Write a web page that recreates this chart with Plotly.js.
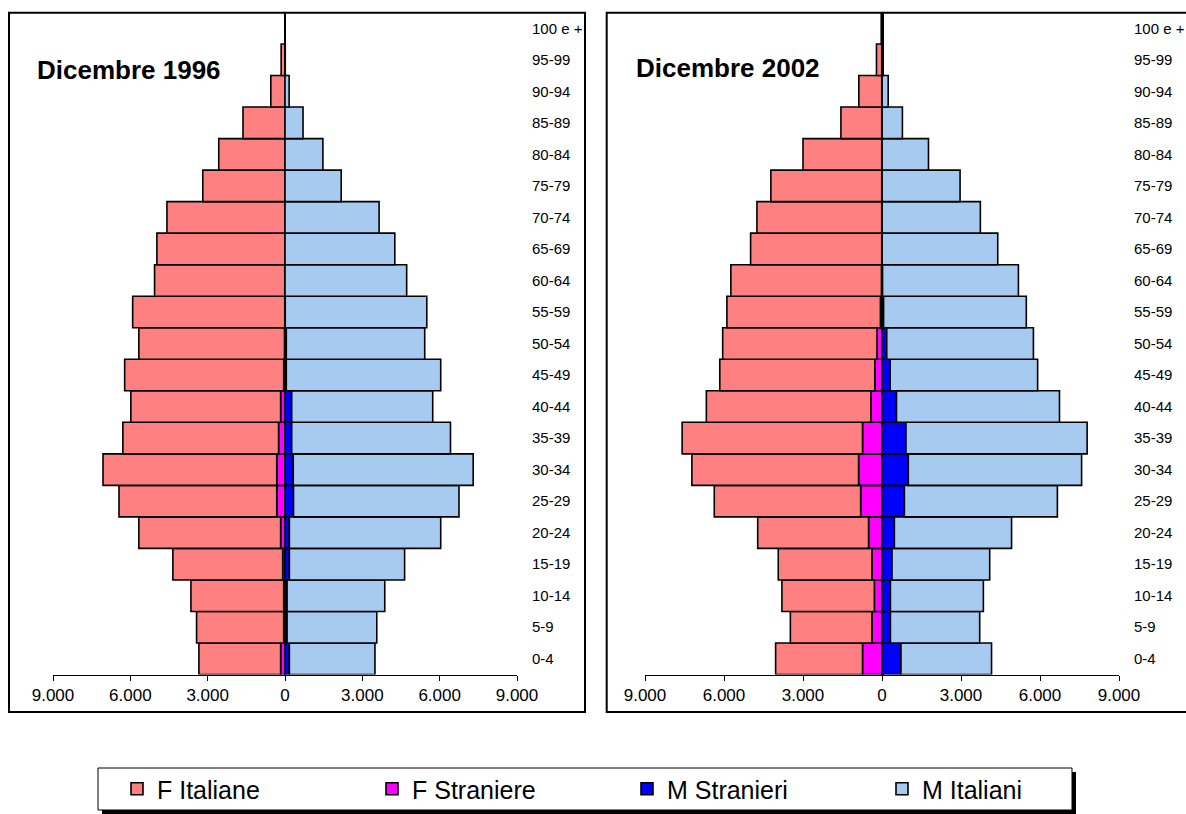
<!DOCTYPE html>
<html>
<head>
<meta charset="utf-8">
<script src="https://cdn.plot.ly/plotly-3.0.1.min.js"></script>
<style>html,body{margin:0;padding:0;background:#fff;}#chart{width:1186px;height:814px;}</style>
</head>
<body>
<div id="chart"></div>
<script>
// Age classes, bottom to top
var ageClasses = ["0-4","5-9","10-14","15-19","20-24","25-29","30-34","35-39","40-44","45-49","50-54","55-59","60-64","65-69","70-74","75-79","80-84","85-89","90-94","95-99","100 e +"];

// Dicembre 1996
var fItaliane1996  = [3170,3380,3600,4260,5500,6120,6740,6040,5810,6170,5650,5900,5050,4970,4580,3190,2570,1630,550,150,0];
var fStraniere1996 = [170,50,50,90,170,320,320,250,170,50,20,10,10,0,0,0,0,0,0,0,0];
var mStranieri1996 = [170,80,80,170,170,330,320,260,260,50,50,10,0,0,0,0,0,0,0,0,0];
var mItaliani1996  = [3320,3480,3790,4470,5870,6420,6980,6160,5470,5990,5370,5490,4720,4260,3650,2180,1470,700,160,10,0];

// Dicembre 2002
var fItaliane2002  = [3300,3100,3510,3560,4210,5560,6330,6850,6250,5890,5860,5830,5720,4980,4740,4210,2990,1550,870,200,30];
var fStraniere2002 = [740,380,290,380,510,810,890,740,420,270,190,60,20,10,10,10,10,10,10,10,0];
var mStranieri2002 = [720,320,320,380,470,850,1000,910,550,310,180,60,20,5,5,5,5,5,5,5,0];
var mItaliani2002  = [3440,3390,3530,3710,4450,5810,6580,6880,6190,5600,5570,5420,5160,4390,3730,2960,1760,770,230,30,5];

var tickValues = [-9000,-6000,-3000,0,3000,6000,9000];
var tickLabels = ["9.000","6.000","3.000","0","3.000","6.000","9.000"];

var colFI = "#FF8080", colFS = "#FF00FF", colMS = "#0000FF", colMI = "#A6CAF0";
var W = 1186, H = 814;
function px(x){return x/W;}
function py(y){return 1 - y/H;}
function neg(a){return a.map(function(v){return -v;});}

function mk(name, vals, color, xa, ya, show, rank){
  return {type:"bar", orientation:"h", name:name, x:vals, y:ageClasses,
    xaxis:xa, yaxis:ya, showlegend:show, legendgroup:name, legendrank:rank,
    marker:{color:color, line:{color:"#000", width:1.6}},
    hoverinfo:"skip"};
}

var data = [
  mk("F Straniere", neg(fStraniere1996), colFS, "x", "y", true, 2),
  mk("M Stranieri", mStranieri1996, colMS, "x", "y", true, 3),
  mk("F Italiane", neg(fItaliane1996), colFI, "x", "y", true, 1),
  mk("M Italiani", mItaliani1996, colMI, "x", "y", true, 4),
  mk("F Straniere", neg(fStraniere2002), colFS, "x2", "y2", false, 2),
  mk("M Stranieri", mStranieri2002, colMS, "x2", "y2", false, 3),
  mk("F Italiane", neg(fItaliane2002), colFI, "x2", "y2", false, 1),
  mk("M Italiani", mItaliani2002, colMI, "x2", "y2", false, 4)
];

var font = "Liberation Sans, Arial, sans-serif";
function xax(domain, zw){
  return {domain:domain, range:[-9000,9000], tickvals:tickValues, ticktext:tickLabels,
    showgrid:false, zeroline:true, zerolinecolor:"#000", zerolinewidth:zw,
    showline:true, linecolor:"#000", linewidth:1, ticks:"outside", ticklen:5, tickcolor:"#000",
    tickfont:{family:font, size:17, color:"#000"}, fixedrange:true};
}
function yax(anchor){
  return {domain:[py(674.5), py(12.5)], anchor:anchor, side:"right", type:"category",
    categoryorder:"array", categoryarray:ageClasses, range:[-0.5,20.5],
    showgrid:false, zeroline:false, showline:false, ticks:"", ticklabelstandoff:14,
    tickfont:{family:font, size:15, color:"#000"}, fixedrange:true};
}

var layout = {
  width:W, height:H, margin:{l:0,r:0,t:0,b:0},
  paper_bgcolor:"#fff", plot_bgcolor:"rgba(0,0,0,0)",
  barmode:"relative", bargap:0,
  font:{family:font, color:"#000"},
  xaxis: xax([px(53), px(517)], 1),
  yaxis: yax("x"),
  xaxis2: xax([px(645), px(1119)], 3),
  yaxis2: yax("x2"),
  showlegend:true,
  legend:{orientation:"h", x:px(117), y:py(789), xanchor:"left", yanchor:"middle",
    bgcolor:"rgba(0,0,0,0)", borderwidth:0, font:{family:font, size:25, color:"#000"},
    entrywidth:210, entrywidthmode:"pixels", traceorder:"normal"},
  shapes:[
    {type:"rect", xref:"paper", yref:"paper", x0:px(9), x1:px(585), y0:py(712), y1:py(12.7), line:{color:"#000", width:2}, fillcolor:"rgba(0,0,0,0)", layer:"below"},
    {type:"rect", xref:"paper", yref:"paper", x0:px(606.7), x1:px(1192), y0:py(712), y1:py(12.7), line:{color:"#000", width:2}, fillcolor:"rgba(0,0,0,0)", layer:"below"},
    {type:"rect", xref:"paper", yref:"paper", x0:px(102), x1:px(1076), y0:py(814), y1:py(772), line:{width:0}, fillcolor:"#000", layer:"below"},
    {type:"rect", xref:"paper", yref:"paper", x0:px(98), x1:px(1072), y0:py(810), y1:py(768), line:{color:"#000", width:1}, fillcolor:"#fff", layer:"below"}
  ],
  annotations:[
    {text:"<b>Dicembre 1996</b>", xref:"paper", yref:"paper", x:px(35), y:py(70), xanchor:"left", yanchor:"middle", showarrow:false, font:{family:font, size:26, color:"#000"}},
    {text:"<b>Dicembre 2002</b>", xref:"paper", yref:"paper", x:px(634), y:py(68), xanchor:"left", yanchor:"middle", showarrow:false, font:{family:font, size:26, color:"#000"}}
  ]
};

Plotly.newPlot("chart", data, layout, {displayModeBar:false, staticPlot:true});
</script>
</body>
</html>
